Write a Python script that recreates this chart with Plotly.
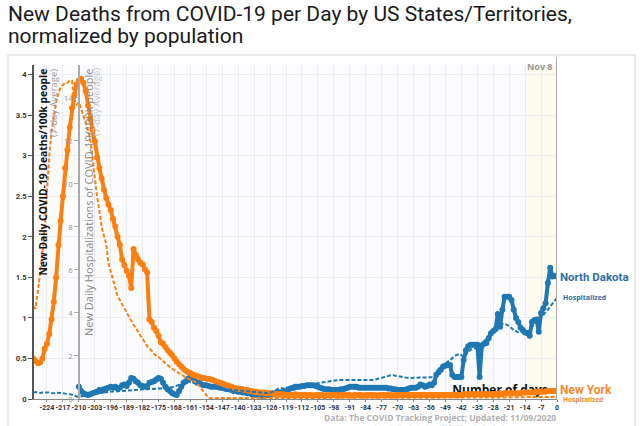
import plotly.graph_objects as go

# ---------------- data (days relative to Nov 8) ----------------
NY_DEATH_START = -230
ny_deaths = [
    0.5, 0.47, 0.44, 0.45, 0.5, 0.62, 0.68, 0.8, 0.98, 1.2,
    1.5, 1.9, 2.2, 2.5, 2.85, 3.07, 3.35, 3.59, 3.75, 3.88,
    3.93, 3.95, 3.9, 3.8, 3.62, 3.45, 3.32, 3.18, 2.98, 2.85,
    2.72, 2.58, 2.48, 2.4, 2.33, 2.22, 2.13, 2.0, 1.9, 1.72,
    1.65, 1.58, 1.52, 1.37, 1.85, 1.78, 1.72, 1.68, 1.66, 1.6,
    1.56, 0.98, 0.95, 0.88, 0.84, 0.78, 0.7, 0.68, 0.64, 0.6,
    0.57, 0.54, 0.5, 0.46, 0.43, 0.4, 0.37, 0.35, 0.33, 0.32,
    0.3, 0.29, 0.28, 0.27, 0.26, 0.26, 0.25, 0.25, 0.24, 0.23,
    0.22, 0.21, 0.2, 0.19, 0.18, 0.17, 0.16, 0.15, 0.14, 0.13,
    0.13,
    # -139 .. -100
    0.12, 0.12, 0.11, 0.11, 0.1, 0.1, 0.09, 0.09, 0.08, 0.08,
    0.08, 0.07, 0.07, 0.07, 0.07, 0.06, 0.06, 0.06, 0.06, 0.06,
    0.05, 0.05, 0.05, 0.05, 0.06, 0.05, 0.05, 0.05, 0.05, 0.05,
    0.05, 0.05, 0.04, 0.05, 0.05, 0.05, 0.05, 0.04, 0.05, 0.05,
    # -99 .. -50
    0.05, 0.05, 0.05, 0.04, 0.05, 0.05, 0.05, 0.05, 0.05, 0.04,
    0.05, 0.05, 0.05, 0.05, 0.04, 0.05, 0.05, 0.05, 0.05, 0.05,
    0.04, 0.05, 0.05, 0.05, 0.05, 0.05, 0.05, 0.04, 0.05, 0.05,
    0.05, 0.05, 0.05, 0.05, 0.05, 0.05, 0.05, 0.05, 0.05, 0.05,
    0.05, 0.05, 0.05, 0.05, 0.05, 0.05, 0.05, 0.05, 0.05, 0.05,
    # -49 .. 0
    0.05, 0.05, 0.05, 0.05, 0.05, 0.05, 0.05, 0.05, 0.06, 0.06,
    0.06, 0.06, 0.06, 0.06, 0.06, 0.06, 0.06, 0.06, 0.06, 0.06,
    0.06, 0.06, 0.06, 0.06, 0.07, 0.06, 0.07, 0.07, 0.07, 0.07,
    0.07, 0.07, 0.07, 0.07, 0.08, 0.08, 0.08, 0.08, 0.08, 0.08,
    0.09, 0.09, 0.09, 0.09, 0.09, 0.1, 0.1, 0.1, 0.1, 0.1,
]

NY_HOSP_START = -230
ny_hosp = [
    4.3, 4.2, 5.0, 5.8, 6.8, 8.0, 9.8, 11.3, 12.4, 13.2,
    13.8, 14.2, 14.5, 14.6, 14.7, 14.7, 14.8, 14.8, 13.9, 13.7,
    13.8, 13.5, 13.2, 12.9, 12.5, 12.1, 11.2, 10.3, 9.4, 8.8,
    8.0, 7.6, 7.2, 6.3, 5.9, 5.6, 5.2, 4.8, 4.6, 4.4,
    4.2, 4.0, 3.8, 3.6, 3.45, 3.3, 3.1, 2.95, 2.8, 2.6,
    2.45, 2.35, 2.25, 2.1, 2.0, 1.95, 1.85, 1.75, 1.65, 1.55,
    1.48, 1.4, 1.33, 1.27, 1.2, 1.12, 1.05, 1.0, 0.95, 0.9,
    0.85, 0.8, 0.7, 0.6, 0.45, 0.3, 0.15, 0.05,
    # -152 .. -101
    0.04, 0.04, 0.04, 0.04, 0.04, 0.04, 0.04, 0.04, 0.04, 0.04,
    0.04, 0.04, 0.04, 0.04, 0.04, 0.04, 0.04, 0.04, 0.04, 0.04,
    0.04, 0.04, 0.04, 0.04, 0.04, 0.04, 0.04, 0.04, 0.04, 0.04,
    0.04, 0.04, 0.04, 0.04, 0.04, 0.04, 0.04, 0.04, 0.04, 0.04,
    0.04, 0.04, 0.04, 0.04, 0.04, 0.04, 0.04, 0.04, 0.04, 0.04,
    0.04, 0.04,
    # -100 .. 0
    0.04, 0.04, 0.04, 0.04, 0.04, 0.04, 0.04, 0.04, 0.04, 0.04,
    0.04, 0.04, 0.04, 0.04, 0.04, 0.04, 0.04, 0.04, 0.04, 0.04,
    0.05, 0.05, 0.05, 0.05, 0.05, 0.05, 0.05, 0.05, 0.05, 0.05,
    0.05, 0.05, 0.05, 0.05, 0.05, 0.05, 0.05, 0.05, 0.05, 0.05,
    0.05, 0.05, 0.05, 0.05, 0.05, 0.05, 0.05, 0.05, 0.05, 0.05,
    0.05, 0.05, 0.05, 0.05, 0.05, 0.05, 0.05, 0.05, 0.05, 0.05,
    0.06, 0.06, 0.06, 0.06, 0.06, 0.06, 0.06, 0.06, 0.06, 0.06,
    0.07, 0.07, 0.07, 0.07, 0.07, 0.07, 0.07, 0.07, 0.08, 0.08,
    0.08, 0.08, 0.08, 0.08, 0.09, 0.09, 0.09, 0.09, 0.09, 0.1,
    0.1, 0.1, 0.1, 0.1, 0.1, 0.1, 0.1, 0.1, 0.1, 0.1, 0.1,
]

ND_DEATH_START = -210
nd_deaths = [
    0.15, 0.1, 0.07, 0.06, 0.05, 0.06, 0.07, 0.08, 0.09, 0.11,
    0.1, 0.12, 0.13, 0.14, 0.15, 0.14, 0.15, 0.13, 0.14, 0.17,
    0.18, 0.16, 0.2, 0.26, 0.25, 0.22, 0.2, 0.17, 0.16, 0.15,
    0.16, 0.2, 0.21, 0.22, 0.24, 0.26, 0.25, 0.2, 0.15, 0.12,
    0.1, 0.07, 0.06, 0.05, 0.1, 0.15, 0.2, 0.22, 0.25, 0.27,
    # -160 .. -111
    0.26, 0.22, 0.2, 0.2, 0.18, 0.17, 0.17, 0.16, 0.15, 0.15,
    0.15, 0.15, 0.14, 0.14, 0.13, 0.12, 0.12, 0.11, 0.1, 0.1,
    0.09, 0.09, 0.08, 0.08, 0.07, 0.07, 0.06, 0.06, 0.05, 0.05,
    0.04, 0.04, 0.05, 0.05, 0.06, 0.06, 0.07, 0.07, 0.08, 0.08,
    0.09, 0.1, 0.12, 0.13, 0.14, 0.15, 0.15, 0.15, 0.16, 0.16,
    # -110 .. -61
    0.17, 0.17, 0.17, 0.17, 0.16, 0.15, 0.14, 0.13, 0.12, 0.12,
    0.12, 0.11, 0.11, 0.11, 0.11, 0.12, 0.12, 0.13, 0.14, 0.15,
    0.15, 0.15, 0.15, 0.14, 0.14, 0.14, 0.14, 0.14, 0.14, 0.14,
    0.14, 0.14, 0.14, 0.14, 0.14, 0.14, 0.13, 0.13, 0.12, 0.12,
    0.11, 0.11, 0.11, 0.11, 0.12, 0.13, 0.14, 0.14, 0.14, 0.15,
    # -60 .. 0
    0.18, 0.17, 0.15, 0.16, 0.18, 0.17, 0.2, 0.3, 0.33, 0.36,
    0.4, 0.41, 0.42, 0.42, 0.3, 0.27, 0.27, 0.27, 0.27, 0.48,
    0.6, 0.65, 0.67, 0.67, 0.67, 0.67, 0.27, 0.66, 0.68, 0.69,
    0.75, 0.81, 0.84, 0.86, 1.05, 0.89, 1.1, 1.26, 1.26, 1.26,
    1.22, 1.1, 1.0, 0.95, 0.88, 0.85, 0.82, 0.81, 0.78, 0.95,
    0.97, 0.98, 0.83, 1.06, 1.12, 1.18, 1.43, 1.62, 1.51, 1.52,
    1.51,
]

ND_HOSP_START = -230
nd_hosp = [
    0.3, 0.32, 0.3, 0.28, 0.3, 0.3, 0.32, 0.3, 0.28, 0.27,
    0.3, 0.3, 0.28, 0.27, 0.25, 0.25, 0.22, 0.2, 0.15, 0.12,
    # -210 .. -161
    0.1, 0.12, 0.15, 0.18, 0.2, 0.22, 0.24, 0.25, 0.27, 0.28,
    0.3, 0.3, 0.32, 0.33, 0.33, 0.35, 0.35, 0.36, 0.37, 0.38,
    0.38, 0.4, 0.4, 0.42, 0.42, 0.43, 0.43, 0.44, 0.45, 0.45,
    0.46, 0.47, 0.47, 0.48, 0.48, 0.49, 0.5, 0.5, 0.5, 0.5,
    0.52, 0.55, 0.58, 0.62, 0.66, 0.7, 0.74, 0.78, 0.8, 0.8,
    # -160 .. -111
    0.78, 0.74, 0.7, 0.66, 0.63, 0.6, 0.58, 0.56, 0.54, 0.52,
    0.5, 0.49, 0.48, 0.47, 0.46, 0.45, 0.44, 0.43, 0.42, 0.41,
    0.4, 0.38, 0.36, 0.34, 0.33, 0.32, 0.31, 0.3, 0.3, 0.29,
    0.28, 0.28, 0.28, 0.28, 0.3, 0.33, 0.38, 0.44, 0.5, 0.5,
    0.48, 0.46, 0.44, 0.42, 0.42, 0.45, 0.5, 0.55, 0.6, 0.62,
    # -110 .. -61
    0.64, 0.65, 0.66, 0.7, 0.72, 0.74, 0.76, 0.78, 0.8, 0.8,
    0.82, 0.84, 0.86, 0.87, 0.88, 0.88, 0.88, 0.87, 0.86, 0.86,
    0.87, 0.88, 0.88, 0.88, 0.87, 0.86, 0.86, 0.87, 0.88, 0.88,
    0.9, 0.93, 0.96, 1.0, 1.03, 1.06, 1.08, 1.1, 1.1, 1.08,
    1.05, 1.02, 1.0, 0.98, 0.97, 0.97, 0.98, 0.99, 1.0, 1.0,
    # -60 .. 0
    1.0, 1.0, 1.0, 1.0, 1.0, 1.0, 1.02, 1.2, 1.4, 1.5,
    1.6, 1.65, 1.72, 1.8, 1.9, 2.0, 2.05, 2.1, 2.05, 1.95,
    2.05, 2.2, 2.3, 2.33, 2.36, 2.38, 2.4, 2.55, 2.7, 2.85,
    2.95, 3.05, 3.1, 3.2, 3.3, 3.4, 3.5, 3.5, 3.45, 3.4,
    3.3, 3.2, 3.15, 3.1, 3.1, 3.1, 3.1, 3.1, 3.2, 3.35,
    3.45, 3.6, 3.7, 3.8, 3.9, 4.05, 4.15, 4.3, 4.45, 4.6,
    4.7,
]

x_ticks = [-224, -217, -210, -203, -196, -189, -182, -175, -168, -161, -154,
           -147, -140, -133, -126, -119, -112, -105, -98, -91, -84, -77, -70,
           -63, -56, -49, -42, -35, -28, -21, -14, -7, 0]
y_ticks = [0, 0.5, 1, 1.5, 2, 2.5, 3, 3.5, 4]
y2_ticks = [0, 2, 4, 6, 8, 10, 12, 14]


def days(start, vals):
    return list(range(start, start + len(vals)))


ORANGE = "#ff7f0e"
BLUE = "#1f77b4"

fig = go.Figure()

# text drawn below the lines
fig.add_trace(go.Scatter(
    x=[-25], y=[0.1], mode="text", text=["<b>Number of days</b>"],
    textfont=dict(family="Open Sans", size=12, color="#111"),
    showlegend=False, hoverinfo="skip"))

fig.add_trace(go.Scatter(
    x=days(ND_HOSP_START, nd_hosp), y=nd_hosp, yaxis="y2", mode="lines",
    line=dict(color=BLUE, width=2, dash="4px,2px"), showlegend=False))
fig.add_trace(go.Scatter(
    x=days(NY_HOSP_START, ny_hosp), y=ny_hosp, yaxis="y2", mode="lines",
    line=dict(color=ORANGE, width=2, dash="4px,2px"), showlegend=False))
fig.add_trace(go.Scatter(
    x=days(ND_DEATH_START, nd_deaths), y=nd_deaths, mode="lines+markers",
    line=dict(color=BLUE, width=4), marker=dict(size=6, color=BLUE),
    showlegend=False))
fig.add_trace(go.Scatter(
    x=days(NY_DEATH_START, ny_deaths), y=ny_deaths, mode="lines+markers",
    line=dict(color=ORANGE, width=4), marker=dict(size=6, color=ORANGE),
    showlegend=False))

L, R, T, B = 34, 83, 65, 27
W, H = 640, 426
pw = W - L - R
ph = H - T - B


def px(xpix):
    return (xpix - L) / pw


def py(ypix):
    return (H - B - ypix) / ph


tickfont = dict(family="Roboto", size=7, color="#333", weight="bold")

fig.update_layout(
    width=W, height=H,
    margin=dict(l=L, r=R, t=T, b=B),
    paper_bgcolor="white",
    plot_bgcolor="#fcfcfe",
    xaxis=dict(range=[-229.7, 0], tickvals=x_ticks, ticktext=[str(t) for t in x_ticks],
               tickfont=tickfont, tickangle=0, showgrid=True, gridcolor="#ebebf2",
               gridwidth=1, zeroline=False, showline=True, linecolor="#888",
               linewidth=1, ticks="outside", ticklen=2, tickcolor="#888"),
    yaxis=dict(range=[0, 4.12], tickvals=y_ticks, ticktext=[str(t) for t in y_ticks],
               tickfont=dict(family="Roboto", size=7.6, color="#333", weight="bold"),
               showgrid=True, gridcolor="#ebebf2", gridwidth=1,
               zeroline=False, showline=True, linecolor="#555", linewidth=1.5,
               ticks="outside", ticklen=4, tickcolor="#555"),
    yaxis2=dict(range=[0, 15.53], overlaying="y", anchor="free", position=px(79),
                side="left", tickvals=y2_ticks,
                tickfont=dict(family="Roboto", size=8, color="#999"),
                showgrid=False, zeroline=False, showline=True, linecolor="#aaa",
                linewidth=1.5, ticks="outside", ticklen=4, tickcolor="#aaa"),
    font=dict(family="Open Sans"),
)

shapes = [
    # outer frame
    dict(type="rect", xref="paper", yref="paper", x0=px(8), x1=px(635),
         y0=py(460), y1=py(55), line=dict(color="#e3e3e3", width=1.5),
         fillcolor="rgba(0,0,0,0)", layer="below"),
    # recent-days highlight
    dict(type="rect", xref="x", yref="paper", x0=-13, x1=0, y0=0, y1=1,
         fillcolor="rgba(255,250,205,0.35)", line=dict(width=0), layer="below"),
    # Nov 8 line
    dict(type="line", xref="x", yref="paper", x0=0, x1=0, y0=0, y1=py(57),
         line=dict(color="#aaa", width=2)),
]
fig.update_layout(shapes=shapes)

ann = [
    dict(text="New Deaths from COVID-19 per Day by US States/Territories,",
         xref="paper", yref="paper", x=px(6), y=py(14), xanchor="left", yanchor="middle",
         align="left", showarrow=False,
         font=dict(family="Roboto", size=21, color="#1a1a1a")),
    dict(text="normalized by population",
         xref="paper", yref="paper", x=px(6), y=py(36), xanchor="left", yanchor="middle",
         align="left", showarrow=False,
         font=dict(family="Roboto", size=21, color="#1a1a1a")),
    dict(text="<b>New Daily COVID-19 Deaths/100k people</b>", textangle=-90,
         xref="paper", yref="paper", x=px(42), y=py(67), xanchor="center", yanchor="top",
         showarrow=False, font=dict(family="Open Sans", size=10.3, color="#111")),
    dict(text="(7-day Average)", textangle=-90,
         xref="paper", yref="paper", x=px(53), y=py(67), xanchor="center", yanchor="top",
         showarrow=False, font=dict(family="Open Sans", size=9.5, color="#999")),
    dict(text="New Daily Hospitalizations of COVID-19/100k people", textangle=-90,
         xref="paper", yref="paper", x=px(88), y=py(66), xanchor="center", yanchor="top",
         showarrow=False, font=dict(family="Open Sans", size=11, color="#888")),
    dict(text="(7-day Average)", textangle=-90,
         xref="paper", yref="paper", x=px(97), y=py(66), xanchor="center", yanchor="top",
         showarrow=False, font=dict(family="Open Sans", size=9.5, color="#c4c4c4")),
    dict(text="Nov 8", xref="x", yref="paper", x=0, y=py(58), xanchor="right",
         yanchor="top", xshift=-2, showarrow=False,
         font=dict(family="Open Sans", size=9, color="#999", weight="bold")),
    dict(text="<b>North Dakota</b>", xref="x", yref="y", x=0, y=1.51, xanchor="left",
         yanchor="middle", xshift=1, showarrow=False,
         font=dict(family="Roboto", size=11.5, color="#2f6ea5")),
    dict(text="<b>Hospitalized</b>", xref="x", yref="y2", x=0, y=4.7, xanchor="left",
         yanchor="middle", xshift=4, showarrow=False,
         font=dict(family="Open Sans", size=7, color="#2f6ea5")),
    dict(text="<b>New York</b>", xref="x", yref="paper", x=0, y=py(389.5), xanchor="left",
         yanchor="middle", xshift=1, showarrow=False,
         font=dict(family="Roboto", size=12, color="#f28a2e")),
    dict(text="<b>Hospitalized</b>", xref="x", yref="paper", x=0, y=py(399.5),
         xanchor="left", yanchor="middle", xshift=4, showarrow=False,
         font=dict(family="Open Sans", size=6.5, color="#f28a2e")),
    dict(text="<b>Data: The COVID Tracking Project; Updated: 11/09/2020</b>",
         xref="paper", yref="paper", x=px(440), y=py(417.5), xanchor="center",
         yanchor="middle", showarrow=False,
         font=dict(family="Open Sans", size=8.5, color="#b0b0b0")),
    dict(text="Interactive Visualization: https://91-DIVOC.com/ by @profwade",
         xref="paper", yref="paper", x=px(440), y=py(421.8), xanchor="center",
         yanchor="top", showarrow=False,
         font=dict(family="Open Sans", size=4.5, color="#c8c8c8")),
]
fig.update_layout(annotations=ann)

fig.write_html("out.html", config={"displayModeBar": False},
               post_script="document.body.style.margin='0';document.body.style.overflow='hidden';")
